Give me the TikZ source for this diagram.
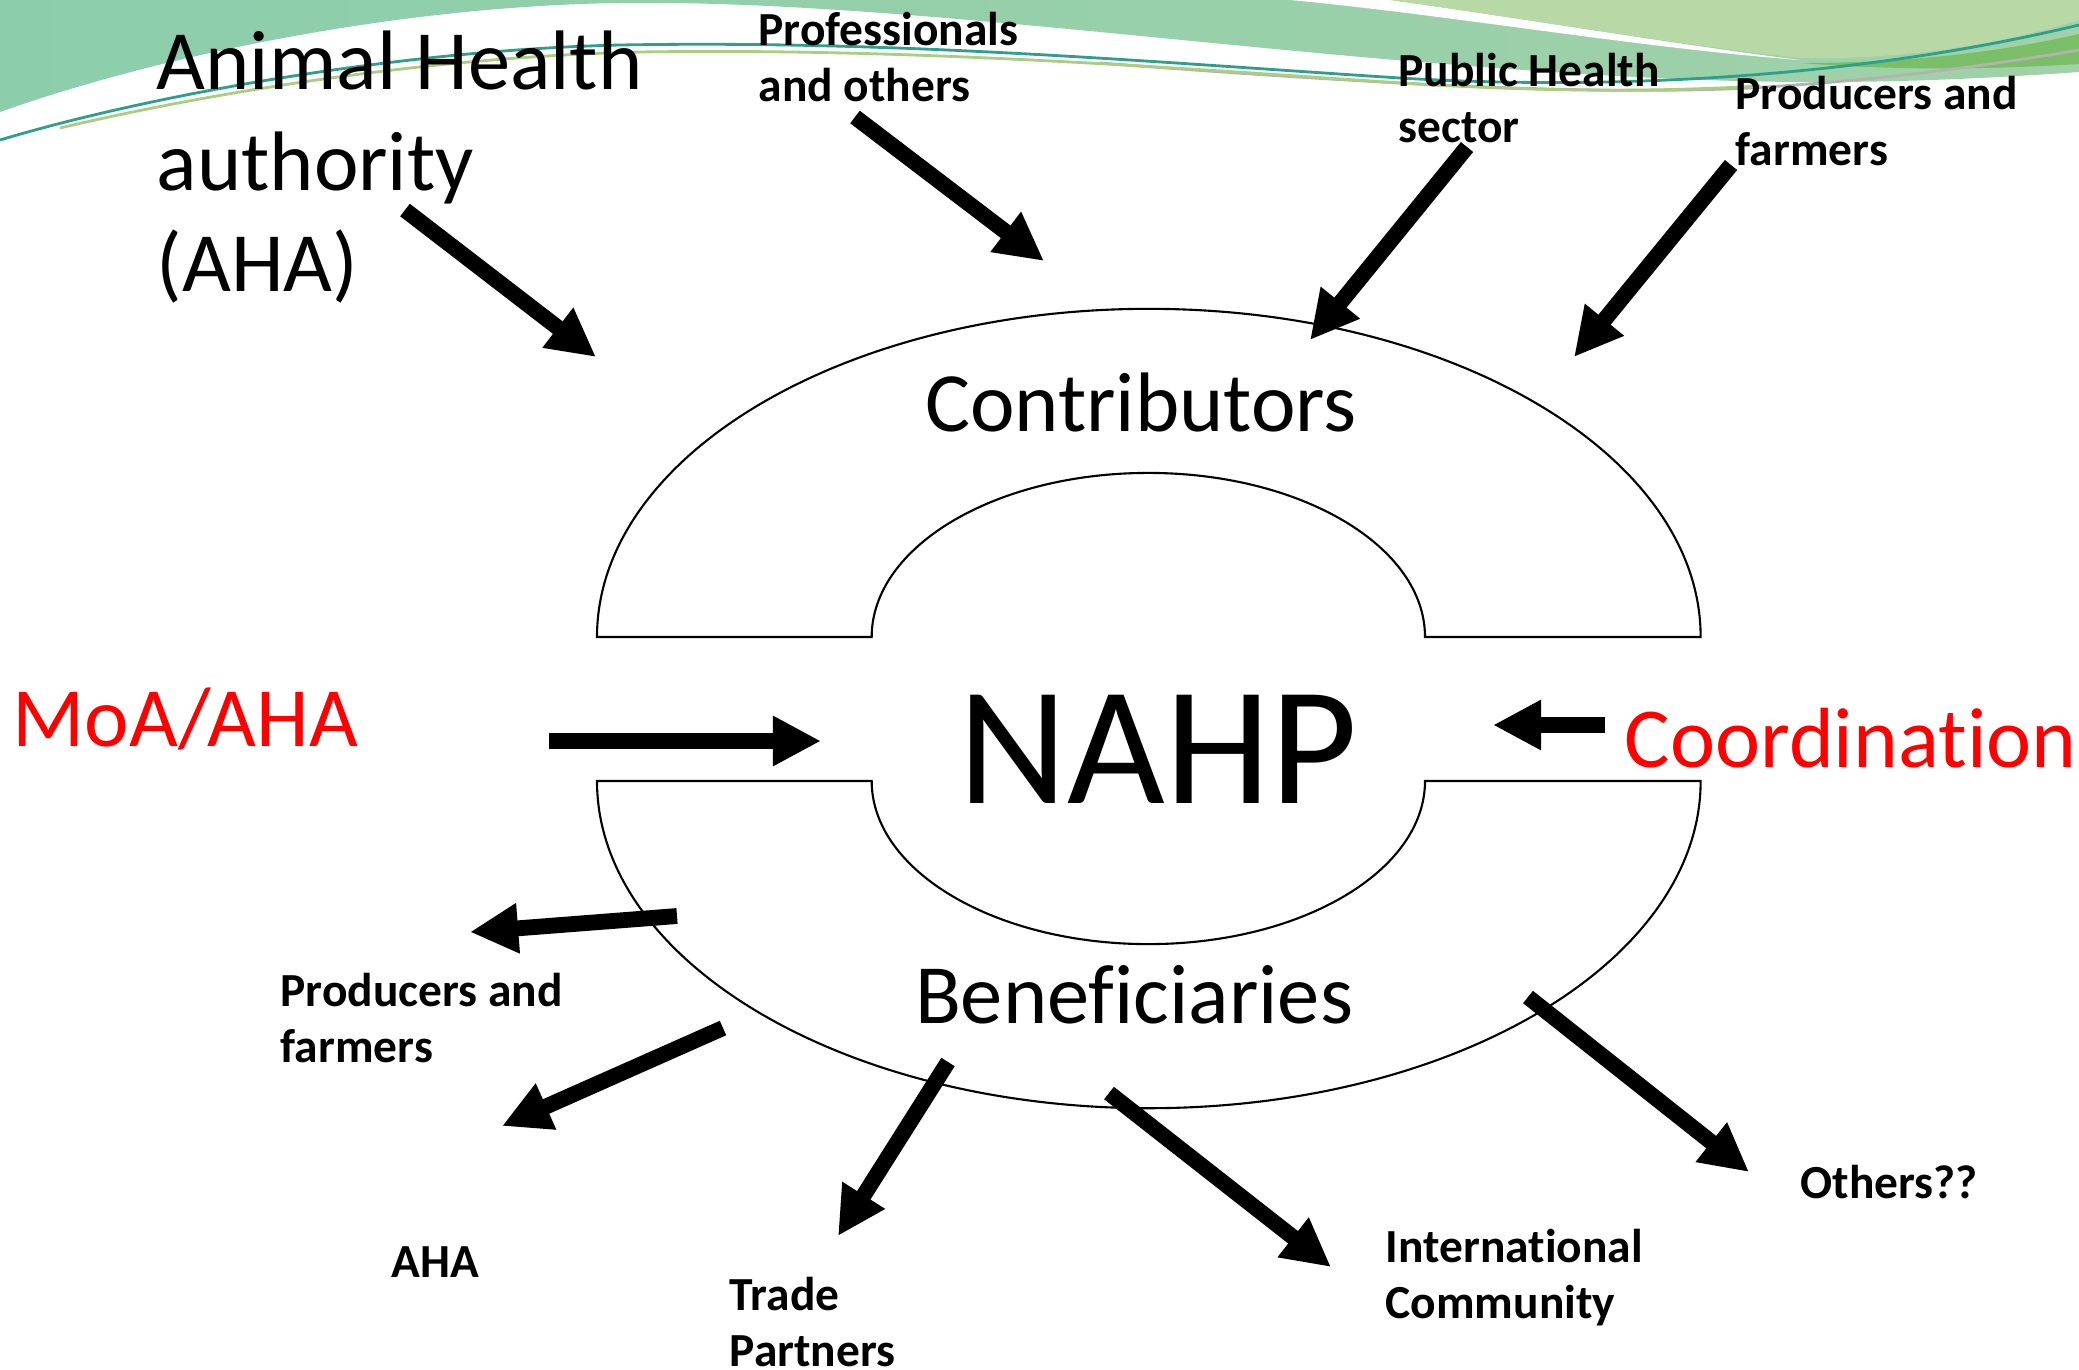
\documentclass[tikz,border=0pt]{standalone}
\usepackage{fontspec}
\setmainfont{Carlito}[Ligatures=NoCommon]
\usepackage{tikz}
\usetikzlibrary{arrows.meta}

\definecolor{bandteal}{RGB}{140,206,172}
\definecolor{bandgreen}{RGB}{160,209,168}
\definecolor{lightleaf}{RGB}{184,216,166}
\definecolor{darkleaf}{RGB}{122,190,104}
\definecolor{swoosh}{RGB}{45,160,140}
\definecolor{swooshlight}{RGB}{170,205,130}
\definecolor{swooshgrey}{RGB}{175,180,175}

\begin{document}
\begin{tikzpicture}[x=0.01cm,y=-0.01cm,>={Triangle[length=13.7pt,width=13.4pt]},
    fat/.style={->,line width=4.5pt},
    ring/.style={draw,line width=0.6pt},
    big/.style={font=\fontsize{24pt}{28.8pt}\selectfont,inner sep=0pt},
    lbl/.style={font=\fontsize{13.5pt}{16.1pt}\selectfont\bfseries,align=left,anchor=north west,inner sep=0pt}]
    \fill[white] (0,0) rectangle (2079,1369);
    \useasboundingbox (0,0) rectangle (2079,1369);

    % top band
    \shade[left color=bandteal,right color=bandgreen] (0,0) -- (2079,0) -- (2079,72)
        .. controls (1850,88) and (1700,85) .. (1420,62)
        .. controls (1150,40) and (850,0) .. (620,3)
        .. controls (400,6) and (160,55) .. (0,112) -- cycle;
    \fill[white] (1290,0) .. controls (1450,15) and (1640,48) .. (1800,60)
        .. controls (1680,45) and (1520,18) .. (1390,0) -- cycle;
    \fill[lightleaf] (1390,0) .. controls (1520,18) and (1680,45) .. (1800,58)
        .. controls (1900,60) and (2000,45) .. (2079,20) -- (2079,0) -- cycle;
    \fill[darkleaf] (1800,63) .. controls (1910,63) and (2000,52) .. (2079,34)
        -- (2079,64) .. controls (1980,70) and (1890,70) .. (1800,63);
    \draw[swooshgrey,line width=0.8pt] (1100,63) .. controls (1400,86) and (1600,95) .. (1750,88)
        .. controls (1850,82) and (1950,72) .. (2079,50);
    \draw[swooshlight,line width=0.8pt] (60,128) .. controls (200,95) and (420,57) .. (640,52)
        .. controls (900,48) and (1150,66) .. (1400,83)
        .. controls (1550,92) and (1650,92) .. (1760,86);
    \draw[swoosh,line width=0.8pt] (0,140) .. controls (150,95) and (400,50) .. (620,45)
        .. controls (900,40) and (1150,62) .. (1400,78)
        .. controls (1600,90) and (1850,80) .. (2079,25);

    % the two halves
    \draw[ring] (597,637) arc[start angle=180,end angle=0,x radius=5.515cm,y radius=3.28cm]
        -- (1425,637) arc[start angle=0,end angle=180,x radius=2.765cm,y radius=1.64cm] -- cycle;
    \draw[ring] (597,781) arc[start angle=180,end angle=360,x radius=5.515cm,y radius=3.27cm]
        -- (1425,781) arc[start angle=360,end angle=180,x radius=2.765cm,y radius=1.63cm] -- cycle;

    \node[big,anchor=base] (contrib) at (1141,431) {Contributors};
    \node[big,anchor=base] (benef) at (1134,1023) {Beneficiaries};
    \node[inner sep=0pt,anchor=base,font=\fontsize{48pt}{56pt}\selectfont] (nahp) at (1158,803) {NAHP};
    \node[big,anchor=base west,text=red] (moa) at (12,746) {MoA/AHA};
    \node[big,anchor=base west,text=red,font=\fontsize{24.3pt}{29pt}\selectfont] (coord) at (1624,767) {Coordination};
    \node[big,align=left,anchor=north west] (aha) at (156,30) {Animal Health\\authority\\(AHA)};

    \node[lbl] (prof) at (758,11) {Professionals\\and others};
    \node[lbl] (pub) at (1398,52) {Public Health\\sector};
    \node[lbl] (prodtop) at (1735,75) {Producers and\\farmers};
    \node[lbl] (prodbot) at (280,972) {Producers and\\farmers};
    \node[lbl] (ahabot) at (391,1246) {AHA};
    \node[lbl] (trade) at (729,1276) {Trade\\Partners};
    \node[lbl] (intl) at (1385,1228) {International\\Community};
    \node[lbl] (others) at (1800,1164) {Others??};

    % arrow ends
    \coordinate (aha-t) at (405,210);   \coordinate (aha-h) at (596,357);
    \coordinate (prof-t) at (855,117);  \coordinate (prof-h) at (1044,261);
    \coordinate (pub-t) at (1467,147);  \coordinate (pub-h) at (1310,340);
    \coordinate (prodtop-t) at (1731,165); \coordinate (prodtop-h) at (1574,357);
    \coordinate (moa-t) at (549,741);   \coordinate (moa-h) at (821,741);
    \coordinate (coord-t) at (1605,725); \coordinate (coord-h) at (1493,725);
    \coordinate (prodbot-t) at (677,916); \coordinate (prodbot-h) at (470,932);
    \coordinate (ahabot-t) at (723,1028); \coordinate (ahabot-h) at (502,1126);
    \coordinate (trade-t) at (948,1062); \coordinate (trade-h) at (838,1236);
    \coordinate (intl-t) at (1109,1093); \coordinate (intl-h) at (1331,1267);
    \coordinate (others-t) at (1528,997); \coordinate (others-h) at (1749,1172);

    \path
        (aha-t) edge [fat] (aha-h)
        (prof-t) edge [fat] (prof-h)
        (pub-t) edge [fat] (pub-h)
        (prodtop-t) edge [fat] (prodtop-h)
        (moa-t) edge [fat] (moa-h)
        (coord-t) edge [fat] (coord-h)
        (prodbot-t) edge [fat] (prodbot-h)
        (ahabot-t) edge [fat] (ahabot-h)
        (trade-t) edge [fat] (trade-h)
        (intl-t) edge [fat] (intl-h)
        (others-t) edge [fat] (others-h);
\end{tikzpicture}
\end{document}
